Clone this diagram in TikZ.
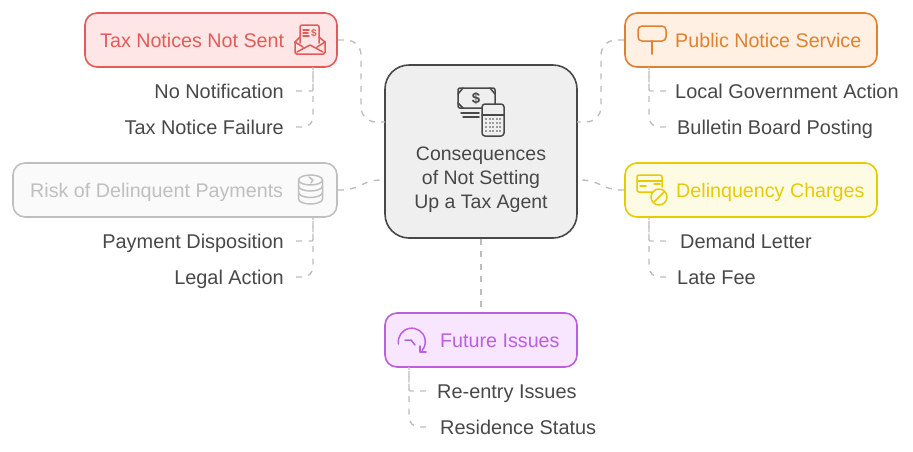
\documentclass[tikz,border=0pt]{standalone}
\usepackage{fontspec}
\setmainfont{Liberation Sans}
\definecolor{inkdark}{HTML}{484848}
\definecolor{linkgray}{HTML}{BDBDBD}
\definecolor{redline}{HTML}{E35B58}
\definecolor{redfill}{HTML}{FFE6E6}
\definecolor{orangeline}{HTML}{E0812F}
\definecolor{orangefill}{HTML}{FFF0E3}
\definecolor{grayline}{HTML}{BFBFBF}
\definecolor{grayfill}{HTML}{FAFAFA}
\definecolor{yellowline}{HTML}{E6CB00}
\definecolor{yellowfill}{HTML}{FEFBE4}
\definecolor{purpleline}{HTML}{BB5FE0}
\definecolor{purplefill}{HTML}{F7E6FD}
\definecolor{hubfill}{HTML}{EFEFEF}
\tikzset{
  box/.style={draw=#1line,fill=#1fill,line width=1.6pt,rounded corners=12pt,minimum height=54pt,inner sep=0pt},
  boxtitle/.style={text=#1line,font=\fontsize{19.7}{24}\selectfont,inner sep=0pt,text height=14pt,text depth=0pt},
  hub/.style={draw=inkdark,fill=hubfill,line width=1.6pt,rounded corners=24pt,minimum width=192pt,minimum height=173pt,inner sep=0pt},
  hubtext/.style={text=inkdark,font=\fontsize{19.5}{24}\selectfont,align=center,inner sep=0pt},
  leaf/.style={text=inkdark,font=\fontsize{19.9}{24}\selectfont,inner ysep=0pt,text height=14pt,text depth=0pt},
  link/.style={draw=linkgray,line width=1.4pt,dash pattern=on 6pt off 6.5pt},
  icon/.style={draw=#1,line width=1.5pt,line join=round,line cap=round,fill=none},
}
\begin{document}
\begin{tikzpicture}[x=1pt,y=-1pt]
  \useasboundingbox (0,0) rectangle (913,451);

  % centre box
  \node[hub] (central) at (481,151.5) {};
  \node[hubtext] (centraltext) at (481,180) {Consequences\\of Not Setting\\Up a Tax Agent};
  \coordinate (hubnw) at (385,122);
  \coordinate (hubsw) at (385,180);
  \coordinate (hubne) at (577,122);
  \coordinate (hubse) at (577,180);

  % the five branches
  \node[box=red,minimum width=252pt] (tax) at (211,40) {};
  \node[boxtitle=red,anchor=west] (taxtitle) at (100,40) {Tax Notices Not Sent};
  \node[box=orange,minimum width=252pt] (public) at (751,40) {};
  \node[boxtitle=orange,anchor=west] (publictitle) at (675,40) {Public Notice Service};
  \node[box=gray,minimum width=324pt] (risk) at (175,190) {};
  \node[boxtitle=gray,anchor=west] (risktitle) at (30,190) {Risk of Delinquent Payments};
  \node[box=yellow,minimum width=252pt] (delinq) at (751,190) {};
  \node[boxtitle=yellow,anchor=west] (delinqtitle) at (676,190) {Delinquency Charges};
  \node[box=purple,minimum width=192pt] (future) at (481,340) {};
  \node[boxtitle=purple,anchor=west] (futuretitle) at (440,340) {Future Issues};

  % leaves
  \node[leaf,anchor=east,inner xsep=12pt] (nonotif) at (296,91) {No Notification};
  \node[leaf,anchor=east,inner xsep=12pt] (taxfail) at (296,127) {Tax Notice Failure};
  \node[leaf,anchor=east,inner xsep=12pt] (paydisp) at (296,241) {Payment Disposition};
  \node[leaf,anchor=east,inner xsep=12pt] (legal) at (296,277) {Legal Action};
  \node[leaf,anchor=west,inner xsep=9pt] (localgov) at (666,91) {Local Government Action};
  \node[leaf,anchor=west,inner xsep=11pt] (bulletin) at (666,127) {Bulletin Board Posting};
  \node[leaf,anchor=west,inner xsep=14pt] (demand) at (666,241) {Demand Letter};
  \node[leaf,anchor=west,inner xsep=11pt] (latefee) at (666,277) {Late Fee};
  \node[leaf,anchor=west,inner xsep=11pt] (reentry) at (426,391) {Re-entry Issues};
  \node[leaf,anchor=west,inner xsep=14pt] (residence) at (426,427) {Residence Status};

  % hub to branches
  \draw[link,rounded corners=15pt] (tax.east) -- (361,40) -- (361,122) -- (hubnw);
  \draw[link,rounded corners=15pt] (public.west) -- (601,40) -- (601,122) -- (hubne);
  \draw[link,rounded corners=8pt] (risk.east) -- (350,190) -- (372,180) -- (hubsw);
  \draw[link,rounded corners=8pt] (delinq.west) -- (612,190) -- (590,180) -- (hubse);
  \draw[link] (central.south) -- (future.north);

  % branches to leaves
  \draw[link,rounded corners=1pt] (nonotif.east) -| (313,67);
  \draw[link,rounded corners=10pt] (taxfail.east) -| (313,67);
  \draw[link,rounded corners=1pt] (paydisp.east) -| (313,217);
  \draw[link,rounded corners=10pt] (legal.east) -| (313,217);
  \draw[link,rounded corners=1pt] (localgov.west) -| (649,67);
  \draw[link,rounded corners=10pt] (bulletin.west) -| (649,67);
  \draw[link,rounded corners=1pt] (demand.west) -| (649,217);
  \draw[link,rounded corners=10pt] (latefee.west) -| (649,217);
  \draw[link,rounded corners=1pt] (reentry.west) -| (409,367);
  \draw[link,rounded corners=10pt] (residence.west) -| (409,367);

  % money and calculator
  \draw[icon=inkdark,rounded corners=2pt] (458,88) rectangle (495,108);
  \draw[icon=inkdark] (458,94) -- (463,88) (490,88) -- (495,94) (458,103) -- (463,108);
  \node[text=inkdark,font=\bfseries\fontsize{15}{15}\selectfont,inner sep=0pt] (dollar) at (476,98) {\$};
  \draw[icon=inkdark] (461,113) -- (479,113) (463,117) -- (479,117);
  \draw[icon=inkdark,fill=hubfill,rounded corners=3pt] (482,104) rectangle (504,136);
  \draw[icon=inkdark] (482,115) -- (504,115);
  \foreach \row in {119,123,127,131}
    \foreach \col in {486,490,493,497,500}
      \fill[inkdark] (\col,\row) circle (0.9pt);

  % envelope
  \draw[icon=redline,rounded corners=1.5pt] (295,42) -- (295,54) -- (325,54) -- (325,42);
  \draw[icon=redline] (295,42) -- (300,37) (325,42) -- (319,37);
  \draw[icon=redline,rounded corners=2pt] (300,43) -- (300,25) -- (319,25) -- (319,43);
  \draw[icon=redline] (297,52) -- (310,45) -- (323,52) (295,42) -- (303,47) (325,42) -- (317,47);
  \draw[icon=redline] (303,30) -- (309,30) (303,33) -- (308,33) (303,36) -- (309,36);
  \node[text=redline,font=\bfseries\fontsize{10}{10}\selectfont,inner sep=0pt] (envdollar) at (314,33) {\$};

  % coins
  \draw[icon=grayline] (310.5,180) ellipse (12pt and 5pt);
  \draw[icon=grayline] (298.5,180) -- (298.5,199) arc (180:0:12pt and -5pt) -- (322.5,180);
  \draw[icon=grayline] (298.5,186) arc (180:0:12pt and -5pt) (298.5,192.5) arc (180:0:12pt and -5pt);
  \draw[icon=grayline] (309,177) -- (313,180) -- (311,183);

  % signpost
  \draw[icon=orangeline,rounded corners=4pt] (638,26) rectangle (666,41);
  \draw[icon=orangeline] (652,41) -- (652,54);

  % card with stop mark
  \draw[icon=yellowline,rounded corners=2pt] (653,192) -- (637,192) -- (637,175) -- (662,175) -- (662,187);
  \draw[icon=yellowline] (637,181) -- (662,181) (640,186) -- (646,186) (654,184) -- (660,184);
  \draw[icon=yellowline] (659,197) circle (8pt);
  \draw[icon=yellowline] (654,202) -- (664,192);

  % return arrow
  \draw[icon=purpleline] (398.5,344) arc (190:-40:13.5pt);
  \draw[icon=purpleline] (420,346) -- (420,352) -- (426,352);
  \draw[icon=purpleline] (405,340) -- (411,340) -- (415,345);
\end{tikzpicture}
\end{document}
